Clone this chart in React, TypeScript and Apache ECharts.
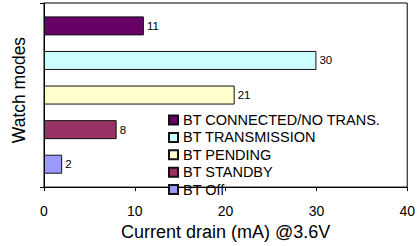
import React, { useEffect, useRef } from "react";
import * as echarts from "echarts";

const seriesNames = [
  "BT CONNECTED/NO TRANS.",
  "BT TRANSMISSION",
  "BT PENDING",
  "BT STANDBY",
  "BT Off",
];
const seriesValues = [11, 30, 21, 8, 2];
const seriesColors = ["#660066", "#CCFFFF", "#FFFFCC", "#993366", "#9999FF"];
const categories = ["Watch modes"];

const FONT = 'Arial, "Liberation Sans", sans-serif';

export default function App() {
  const ref = useRef<HTMLDivElement>(null);
  useEffect(() => {
    const chart = echarts.init(ref.current!, undefined, { renderer: "svg" });
    chart.setOption({
      animation: false,
      textStyle: { fontFamily: FONT },
      grid: {
        left: 44,
        right: 8,
        top: 3,
        bottom: 49,
        show: true,
        borderColor: "#000",
        borderWidth: 1,
        backgroundColor: "transparent",
      },
      legend: {
        orient: "vertical",
        left: 168,
        top: 112.5,
        padding: 0,
        itemWidth: 9,
        itemHeight: 9,
        itemGap: 2.4,
        icon: "rect",
        data: seriesNames,
        textStyle: { fontFamily: FONT, fontSize: 14.5, color: "#000", lineHeight: 14 },
      },
      xAxis: {
        type: "value",
        min: 0,
        max: 40,
        interval: 10,
        name: "Current drain (mA) @3.6V",
        nameLocation: "middle",
        nameGap: 27,
        nameTextStyle: { fontFamily: FONT, fontSize: 18, color: "#000" },
        axisLine: { show: true, lineStyle: { color: "#000", width: 1 } },
        axisTick: { show: true, length: 4, lineStyle: { color: "#000" } },
        axisLabel: { fontFamily: FONT, fontSize: 14, color: "#000", margin: 17 },
        splitLine: { show: false },
      },
      yAxis: {
        type: "category",
        data: categories,
        inverse: true,
        name: "Watch modes",
        nameLocation: "middle",
        nameGap: 16,
        nameRotate: 90,
        nameTextStyle: {
          fontFamily: FONT,
          fontSize: 17.5,
          color: "#000",
          padding: [0, 0, 0, 10],
        },
        axisLine: { show: true, lineStyle: { color: "#000", width: 1 } },
        axisTick: { show: true, length: 4, lineStyle: { color: "#000" } },
        axisLabel: { show: false },
      },
      series: seriesNames.map((name, i) => ({
        name,
        type: "bar",
        data: [seriesValues[i]],
        barWidth: 19,
        barGap: "82%",
        itemStyle: { color: seriesColors[i], borderColor: "#111", borderWidth: 1 },
        label: {
          show: true,
          position: "right",
          distance: 3,
          fontFamily: FONT,
          fontSize: 11.5,
          color: "#000",
        },
      })),
    });
    return () => chart.dispose();
  }, []);
  return <div ref={ref} style={{ width: 418, height: 246, position: "absolute", left: 0, top: 0 }} />;
}
